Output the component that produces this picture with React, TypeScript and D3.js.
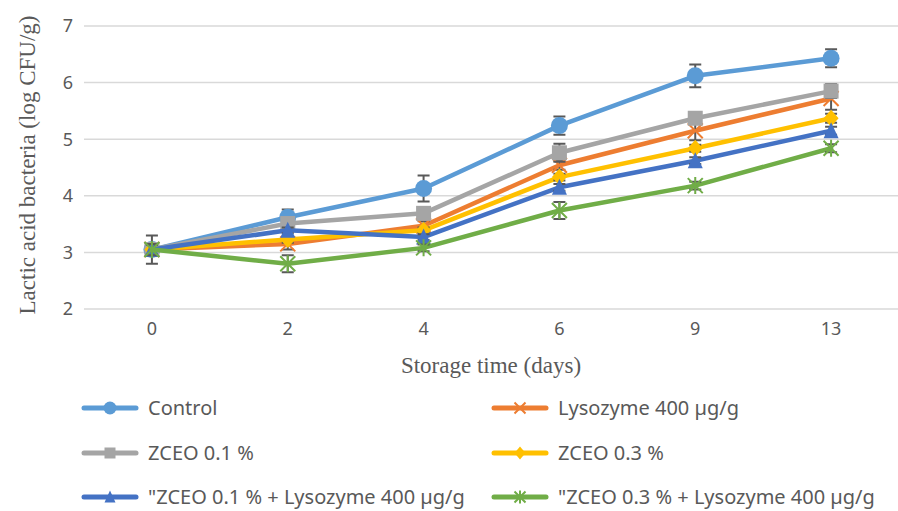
import React from "react";
import * as d3 from "d3";

const days = ["0", "2", "4", "6", "9", "13"];
const yTicks = [2, 3, 4, 5, 6, 7];

const seriesNames = [
  "Control",
  "Lysozyme 400 µg/g",
  "ZCEO 0.1 %",
  "ZCEO 0.3 %",
  "\"ZCEO 0.1 % + Lysozyme 400 µg/g",
  "\"ZCEO 0.3 % + Lysozyme 400 µg/g",
];

const control = [3.05, 3.62, 4.13, 5.24, 6.12, 6.43];
const lysozyme = [3.05, 3.15, 3.47, 4.54, 5.15, 5.72];
const zceo01 = [3.05, 3.51, 3.69, 4.76, 5.37, 5.85];
const zceo03 = [3.05, 3.23, 3.39, 4.33, 4.84, 5.37];
const combo01 = [3.05, 3.39, 3.27, 4.15, 4.62, 5.15];
const combo03 = [3.05, 2.8, 3.08, 3.74, 4.18, 4.84];

const controlErr = [0.25, 0.14, 0.23, 0.16, 0.2, 0.16];
const lysozymeErr = [0.1, 0.1, 0.08, 0.08, 0.17, 0.2];
const zceo01Err = [0.1, 0.06, 0.06, 0.16, 0.06, 0.12];
const zceo03Err = [0.08, 0.06, 0.05, 0.06, 0.06, 0.08];
const combo01Err = [0.08, 0.05, 0.05, 0.06, 0.06, 0.07];
const combo03Err = [0.1, 0.15, 0.06, 0.15, 0.07, 0.07];

const colors = ["#5B9BD5", "#ED7D31", "#A5A5A5", "#FFC000", "#4472C4", "#70AD47"];
const markers = ["circle", "x", "square", "diamond", "triangle", "star"];

const seriesValues = [control, lysozyme, zceo01, zceo03, combo01, combo03];
const seriesErrs = [controlErr, lysozymeErr, zceo01Err, zceo03Err, combo01Err, combo03Err];

const W = 898;
const H = 511;
const TEXT = "#595959";
const SANS = "'Noto Sans', sans-serif";
const SERIF = "'Liberation Serif', 'Times New Roman', serif";

function Marker({ type, x, y, color, s }: { type: string; x: number; y: number; color: string; s: number }) {
  const h = s / 2;
  if (type === "circle") return <circle cx={x} cy={y} r={h + 1} fill={color} />;
  if (type === "square") return <rect x={x - h} y={y - h} width={s} height={s} fill={color} />;
  if (type === "diamond")
    return <path d={`M${x},${y - h - 1}L${x + h},${y}L${x},${y + h + 1}L${x - h},${y}Z`} fill={color} />;
  if (type === "triangle")
    return <path d={`M${x},${y - h - 1}L${x + h},${y + h}L${x - h},${y + h}Z`} fill={color} />;
  if (type === "x")
    return (
      <path d={`M${x - h},${y - h}L${x + h},${y + h}M${x - h},${y + h}L${x + h},${y - h}`} stroke={color} strokeWidth={2} fill="none" />
    );
  // star
  return (
    <path
      d={`M${x - h},${y - h}L${x + h},${y + h}M${x - h},${y + h}L${x + h},${y - h}M${x},${y - h - 1}L${x},${y + h + 1}`}
      stroke={color}
      strokeWidth={2}
      fill="none"
    />
  );
}

export default function App() {
  const x = d3.scalePoint<string>().domain(days).range([84, 899]).padding(0.5);
  const y = d3.scaleLinear().domain([2, 7]).range([309, 26]);
  const line = d3
    .line<number>()
    .x((_, i) => x(days[i]) as number)
    .y((v) => y(v));

  const legendRows = [408, 453, 497];
  const legendCols = [82, 492];

  return (
    <svg width={W} height={H} style={{ position: "absolute", left: 0, top: 0, background: "#fff" }}>
      <rect x={0} y={0} width={W} height={H} fill="#fff" />
      {yTicks.map((t) => (
        <g key={t}>
          <line x1={84} x2={899} y1={y(t)} y2={y(t)} stroke="#d9d9d9" strokeWidth={1.5} />
          <text x={73} y={y(t)} dy="0.35em" textAnchor="end" fontFamily={SANS} fontSize={18} fill={TEXT}>
            {t}
          </text>
        </g>
      ))}
      {days.map((d) => (
        <text key={d} x={x(d)} y={329} dy="0.35em" textAnchor="middle" fontFamily={SANS} fontSize={18} fill={TEXT}>
          {d}
        </text>
      ))}
      <text x={491} y={365} dy="0.35em" textAnchor="middle" fontFamily={SERIF} fontSize={23} fill={TEXT}>
        Storage time (days)
      </text>
      <text
        transform={`translate(27,165) rotate(-90)`}
        dy="0.35em"
        textAnchor="middle"
        fontFamily={SERIF}
        fontSize={23}
        fill={TEXT}
      >
        Lactic acid bacteria (log CFU/g)
      </text>

      {seriesValues.map((vals, si) => (
        <g key={si}>
          <path
            d={line(vals) || ""}
            fill="none"
            stroke={colors[si]}
            strokeWidth={4.5}
            strokeLinejoin="round"
            strokeLinecap="round"
          />
          {vals.map((v, i) => {
            const cx = x(days[i]) as number;
            const e = seriesErrs[si][i];
            return (
              <path
                key={i}
                d={`M${cx},${y(v + e)}L${cx},${y(v - e)}M${cx - 6},${y(v + e)}L${cx + 6},${y(v + e)}M${cx - 6},${y(v - e)}L${cx + 6},${y(v - e)}`}
                stroke="#595959"
                strokeWidth={2}
                fill="none"
              />
            );
          })}
          {vals.map((v, i) => (
            <Marker key={i} type={markers[si]} x={x(days[i]) as number} y={y(v)} color={colors[si]} s={15} />
          ))}
        </g>
      ))}

      {seriesNames.map((name, si) => {
        const col = si % 2;
        const row = Math.floor(si / 2);
        const lx = legendCols[col];
        const ly = legendRows[row];
        return (
          <g key={name}>
            <line x1={lx + 2} x2={lx + 54} y1={ly} y2={ly} stroke={colors[si]} strokeWidth={5} strokeLinecap="round" />
            <Marker type={markers[si]} x={lx + 28} y={ly} color={colors[si]} s={11} />
            <text x={lx + 66} y={ly} dy="0.35em" fontFamily={SANS} fontSize={20} fill={TEXT}>
              {name}
            </text>
          </g>
        );
      })}
    </svg>
  );
}
